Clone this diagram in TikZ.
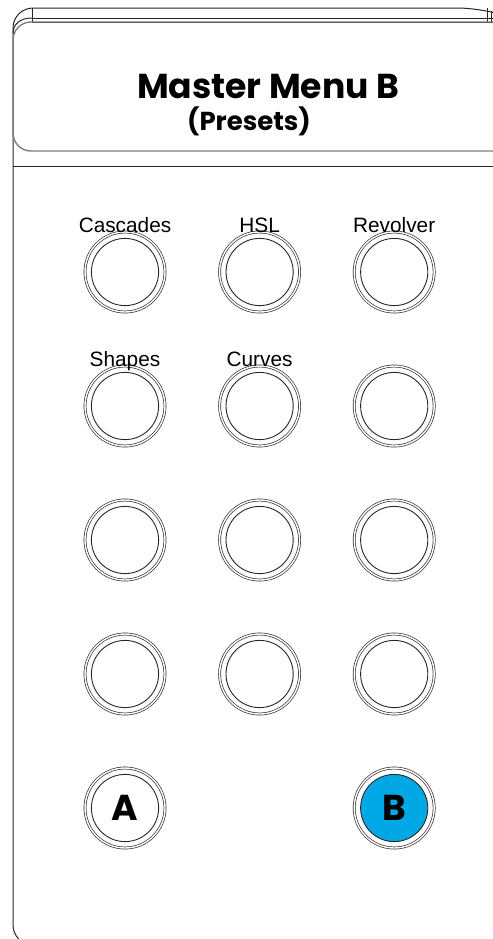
\documentclass[tikz,border=0pt]{standalone}
\usepackage{fontspec}
\setmainfont{Liberation Sans}
\newfontfamily\gothicfont{Poppins}
\usepackage{xcolor}
\definecolor{knobblue}{RGB}{0, 168, 230}
\definecolor{screengray}{RGB}{125, 125, 125}
\usepackage{tikz}
\usetikzlibrary{positioning}

\begin{document}
\begin{tikzpicture}[x=0.5pt, y=-0.5pt, node distance=27pt and 27.3pt]

  \tikzstyle{frameline} = [draw=black!85, line width=0.5pt]
  \tikzstyle{screenline} = [draw=screengray, line width=0.7pt]
  \tikzstyle{knob} = [
    circle, draw=black!80, line width=0.35pt,
    double=white, double distance=0.7pt,
    minimum size=40pt, inner sep=0pt, outer sep=0pt,
    font=\gothicfont\fontsize{18}{18}\selectfont\bfseries,
    path picture={\draw[black!85, line width=0.45pt]
      (path picture bounding box.center) circle (16.8pt);}
  ]
  \tikzstyle{knoblit} = [
    knob,
    path picture={\draw[black!85, line width=0.45pt, fill=knobblue]
      (path picture bounding box.center) circle (16.8pt);}
  ]
  \tikzstyle{knoblabel} = [font=\fontsize{10.4}{12}\selectfont, inner sep=0pt]

  \useasboundingbox (0,0) rectangle (493,939);

  % panel outline
  \draw[frameline, rounded corners=10pt] (60,945) -- (13,945) -- (13,8) -- (478,8) -- (492,12);
  \draw[frameline] (13,34) .. controls (13,24) and (20,18) .. (32,18);
  \draw[frameline] (32,18) -- (493,18);
  \draw[frameline] (32,22) -- (493,22);
  \draw[frameline] (32,8) -- (32,22);
  \draw[frameline] (487,8) -- (487,22);
  \draw[frameline] (491,11) -- (491,22);
  \draw[frameline] (13,166) -- (493,166);

  % screen
  \draw[screenline, rounded corners=9pt] (530,22) -- (13,22) -- (13,151) -- (530,151);

  \node[font=\gothicfont\fontsize{17.3}{20}\selectfont\bfseries, inner sep=0pt] (title) at (268,86) {Master Menu B};
  \node[font=\gothicfont\fontsize{13}{15}\selectfont\bfseries, inner sep=0pt] (subtitle) at (249,121) {(Presets)};

  % buttons
  \node[knob] (k11) at (125,272) {};
  \node[knob, right=of k11] (k12) {};
  \node[knob, right=of k12] (k13) {};

  \node[knob, below=of k11] (k21) {};
  \node[knob, right=of k21] (k22) {};
  \node[knob, right=of k22] (k23) {};

  \node[knob, below=of k21] (k31) {};
  \node[knob, right=of k31] (k32) {};
  \node[knob, right=of k32] (k33) {};

  \node[knob, below=of k31] (k41) {};
  \node[knob, right=of k41] (k42) {};
  \node[knob, right=of k42] (k43) {};

  \node[knob, below=of k41] (kA) {A};
  \node[knoblit, below=of k43] (kB) {B};

  % labels
  \node[knoblabel, above=0pt of k11, anchor=base] (lab11) {Cascades};
  \node[knoblabel, above=0pt of k12, anchor=base] (lab12) {HSL};
  \node[knoblabel, above=0pt of k13, anchor=base] (lab13) {Revolver};
  \node[knoblabel, above=0pt of k21, anchor=base] (lab21) {Shapes};
  \node[knoblabel, above=0pt of k22, anchor=base] (lab22) {Curves};

\end{tikzpicture}
\end{document}
